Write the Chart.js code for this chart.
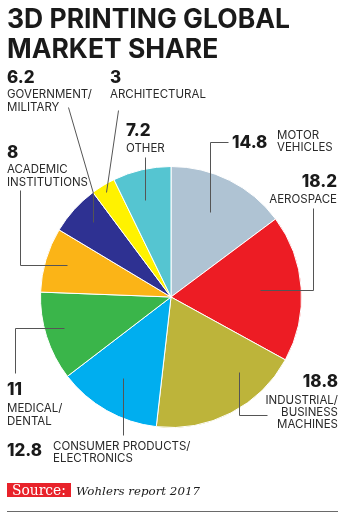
<!DOCTYPE html>
<html>
<head>
<meta charset="utf-8">
<script src="https://cdn.jsdelivr.net/npm/chart.js@4.4.1/dist/chart.umd.min.js"></script>
<style>
  html, body { margin: 0; padding: 0; background: #fff; }
  #wrap { position: relative; width: 350px; height: 518px; }
</style>
</head>
<body>
<div id="wrap"><canvas id="c" width="350" height="518"></canvas></div>
<script>
// Market segments, clockwise from 12 o'clock
const categories = [
  'MOTOR VEHICLES', 'AEROSPACE', 'INDUSTRIAL/ BUSINESS MACHINES',
  'CONSUMER PRODUCTS/ ELECTRONICS', 'MEDICAL/ DENTAL', 'ACADEMIC INSTITUTIONS',
  'GOVERNMENT/ MILITARY', 'ARCHITECTURAL', 'OTHER'
];
const shares = [14.8, 18.2, 18.8, 12.8, 11, 8, 6.2, 3, 7.2];
const sliceColors = [
  '#afc3d3', '#ed1c24', '#bdb43a', '#00aeef', '#3ab54a',
  '#fbb417', '#2e3192', '#fff200', '#55c5d1'
];
const titleLines = ['3D PRINTING GLOBAL', 'MARKET SHARE'];
const sourceTag = 'Source:';
const sourceText = 'Wohlers report 2017';

const NUM_FONT = '800 17px Inter';
const LBL_FONT = '400 11.5px Inter';
const INK = '#1a1a1a';
const LEAD = '#555';

// Label layout per segment: label lines, number/label anchors, leader path
// (leader offsets are relative to the pie centre).
const labelLayout = [
  { lines: ['MOTOR', 'VEHICLES'], num: [232, 148, 'left'], lbl: [277, 139, 'left'], lh: 12,
    lead: [[57, -155], [39, -155], [39, -85]] },
  { lines: ['AEROSPACE'], num: [337, 187, 'right'], lbl: [337, 203, 'right'], lh: 12,
    lead: [[142, -89], [142, -7], [89, -7]] },
  { lines: ['INDUSTRIAL/', 'BUSINESS', 'MACHINES'], num: [338, 387, 'right'], lbl: [338, 404, 'right'], lh: 12,
    lead: [[96, 118], [68, 118], [68, 75]] },
  { lines: ['CONSUMER PRODUCTS/', 'ELECTRONICS'], num: [7, 456, 'left'], lbl: [53, 450, 'left'], lh: 12,
    lead: [[-48, 138], [-48, 81]] },
  { lines: ['MEDICAL/', 'DENTAL'], num: [7, 395, 'left'], lbl: [7, 412, 'left'], lh: 13,
    lead: [[-156, 76], [-156, 31], [-107, 31]] },
  { lines: ['ACADEMIC', 'INSTITUTIONS'], num: [7, 158, 'left'], lbl: [7, 173, 'left'], lh: 13,
    lead: [[-151, -107], [-151, -32], [-104, -32]] },
  { lines: ['GOVERNMENT/', 'MILITARY'], num: [7, 83, 'left'], lbl: [7, 98, 'left'], lh: 13,
    lead: [[-103, -190], [-78, -104], [-78, -75]] },
  { lines: ['ARCHITECTURAL'], num: [110, 83, 'left'], lbl: [110, 98, 'left'], lh: 13,
    lead: [[-53, -187], [-65, -105]] },
  { lines: ['OTHER'], num: [126, 136, 'left'], lbl: [126, 152, 'left'], lh: 13,
    lead: [[-26, -140], [-26, -97]] }
];

function fitFont(ctx, text, weight, family, target) {
  let size = 20;
  ctx.font = `${weight} ${size}px ${family}`;
  const w = ctx.measureText(text).width;
  size = size * target / w;
  return `${weight} ${size.toFixed(2)}px ${family}`;
}

const annotations = {
  id: 'annotations',
  afterDraw(chart) {
    const ctx = chart.ctx;
    const meta = chart.getDatasetMeta(0);
    const arc0 = meta.data[0];
    const cx = arc0.x, cy = arc0.y;
    ctx.save();

    // Title
    ctx.fillStyle = INK;
    ctx.textBaseline = 'alphabetic';
    ctx.textAlign = 'left';
    ctx.font = fitFont(ctx, titleLines[0], 700, 'Inter', 283);
    ctx.fillText(titleLines[0], 7, 28);
    ctx.fillText(titleLines[1], 7, 58);

    // Leader lines
    ctx.strokeStyle = LEAD;
    ctx.lineWidth = 1;
    labelLayout.forEach(l => {
      ctx.beginPath();
      l.lead.forEach((p, i) => {
        const x = Math.round(cx + p[0]) + 0.5, y = Math.round(cy + p[1]) + 0.5;
        if (i === 0) ctx.moveTo(x, y); else ctx.lineTo(x, y);
      });
      ctx.stroke();
    });

    // Values and category names
    labelLayout.forEach((l, i) => {
      ctx.fillStyle = INK;
      ctx.font = NUM_FONT;
      ctx.textAlign = l.num[2];
      ctx.fillText(String(shares[i]), l.num[0], l.num[1]);
      ctx.font = LBL_FONT;
      ctx.fillStyle = '#2a2a2a';
      ctx.textAlign = l.lbl[2];
      l.lines.forEach((t, k) => ctx.fillText(t, l.lbl[0], l.lbl[1] + k * l.lh));
    });

    // Source line
    ctx.textAlign = 'left';
    ctx.fillStyle = '#e8222a';
    ctx.fillRect(7, 483, 64, 14);
    ctx.fillStyle = '#fff';
    ctx.font = '15px "DejaVu Serif"';
    ctx.font = fitFont(ctx, sourceTag, 400, '"DejaVu Serif"', 54);
    ctx.fillText(sourceTag, 12, 495);
    ctx.fillStyle = INK;
    ctx.font = fitFont(ctx, sourceText, 'italic 400', '"DejaVu Serif"', 124);
    ctx.fillText(sourceText, 76, 495);

    // Rule at the bottom
    ctx.strokeStyle = '#6a6a6a';
    ctx.lineWidth = 1;
    ctx.beginPath();
    ctx.moveTo(7, 511.5);
    ctx.lineTo(338, 511.5);
    ctx.stroke();

    ctx.restore();
  }
};

new Chart(document.getElementById('c'), {
  type: 'pie',
  data: {
    labels: categories,
    datasets: [{
      data: shares,
      backgroundColor: sliceColors,
      borderColor: '#ffffff',
      borderWidth: 1
    }]
  },
  options: {
    responsive: false,
    devicePixelRatio: 1,
    animation: false,
    layout: { padding: { left: 40, right: 48, top: 166, bottom: 90 } },
    plugins: { legend: { display: false }, tooltip: { enabled: false } }
  },
  plugins: [annotations]
});
</script>
</body>
</html>
